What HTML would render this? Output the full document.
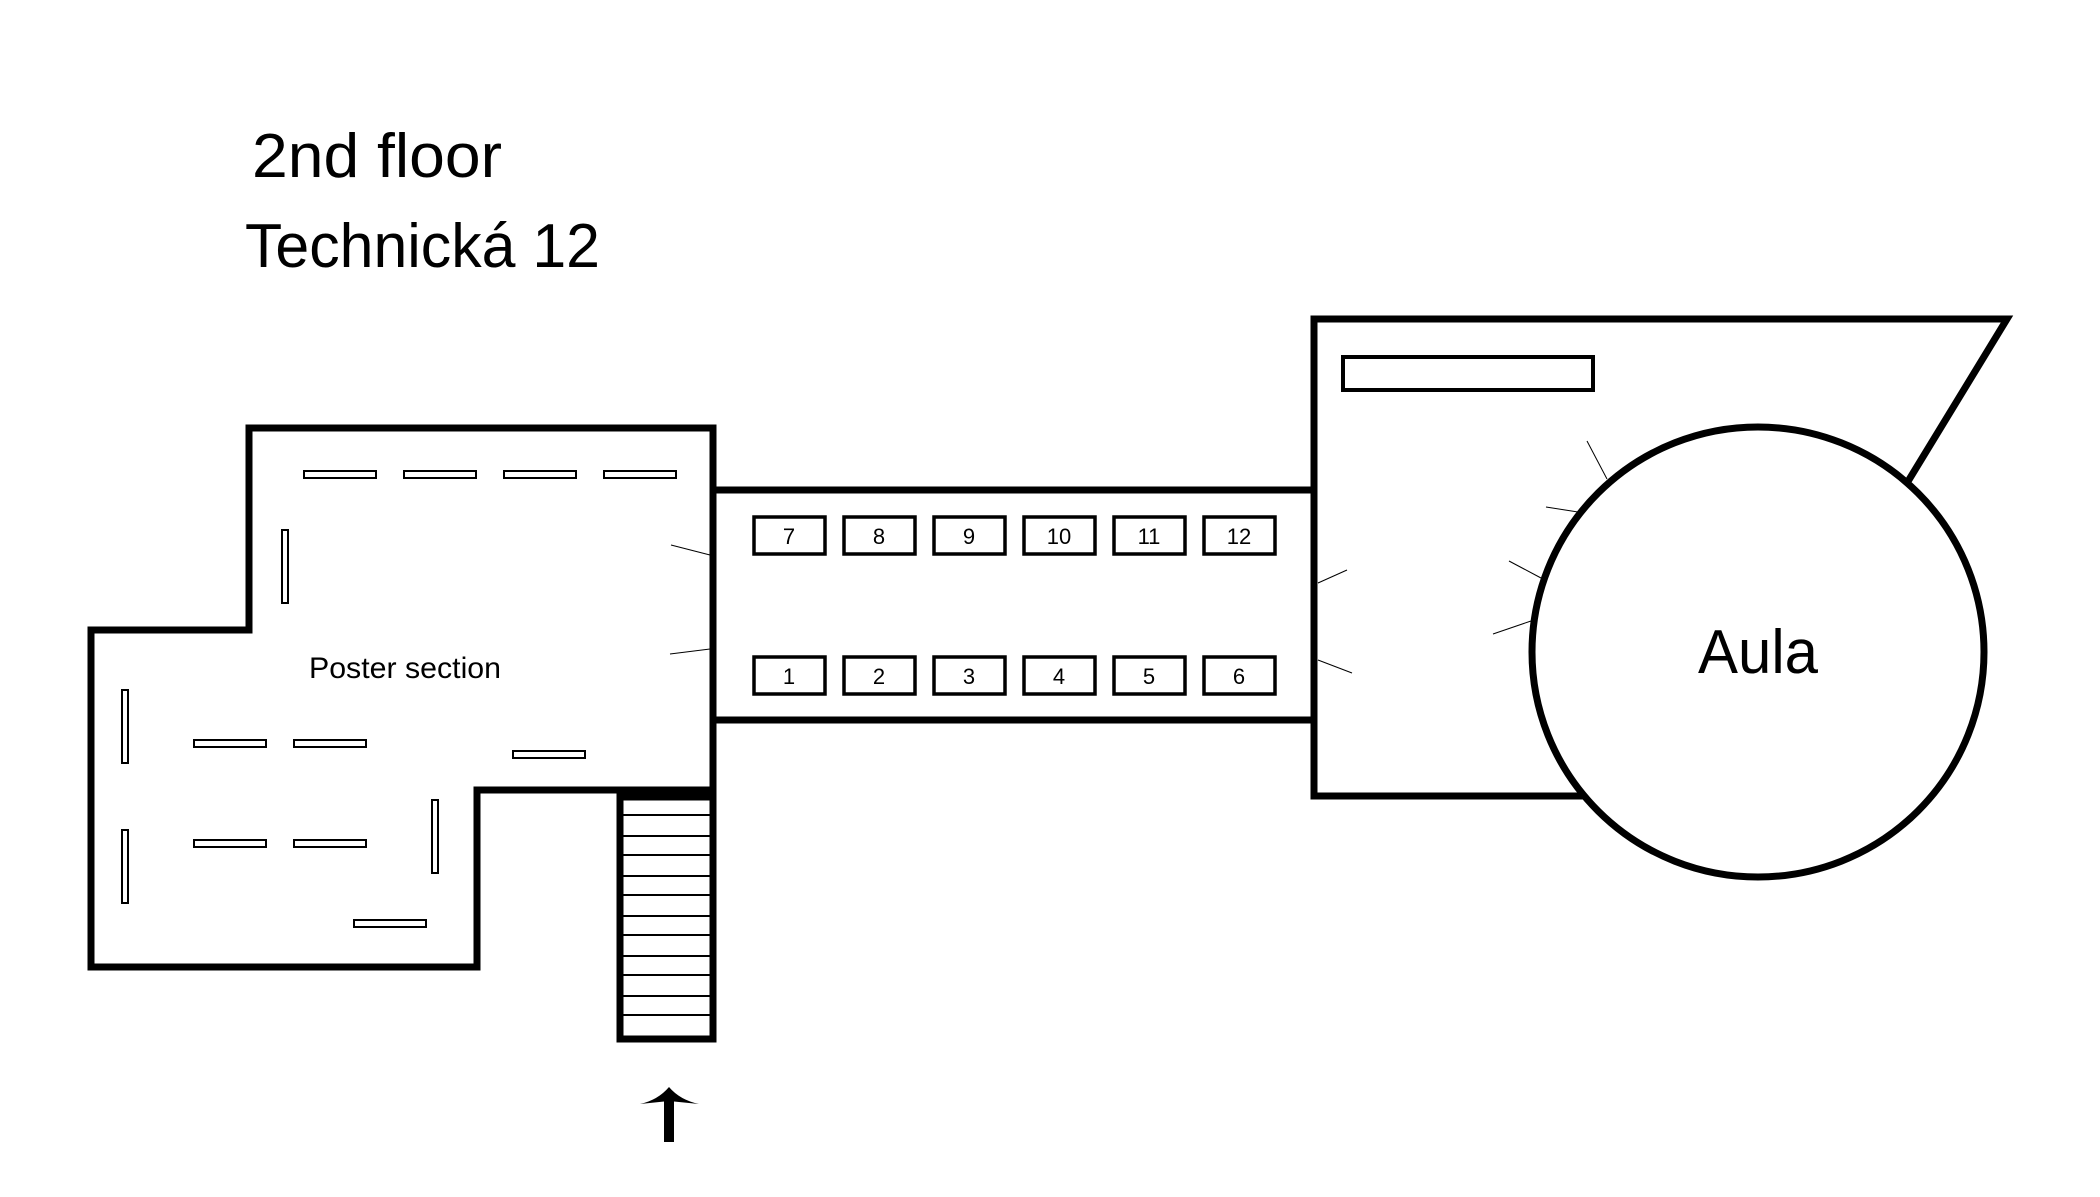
<!DOCTYPE html>
<html><head><meta charset="utf-8"><style>
html,body{margin:0;padding:0;background:#fff;}
svg{display:block;}
text{font-family:"Liberation Sans",sans-serif;fill:#000;}
</style></head><body>
<svg width="2100" height="1197" viewBox="0 0 2100 1197" xmlns="http://www.w3.org/2000/svg">
<rect width="2100" height="1197" fill="#fff"/>
<text x="252" y="177" font-size="62" textLength="250" lengthAdjust="spacingAndGlyphs">2nd floor</text>
<text x="245" y="267" font-size="62" textLength="355" lengthAdjust="spacingAndGlyphs">Technická 12</text>

<!-- left building -->
<polygon points="249,428 713,428 713,790 477,790 477,967 91,967 91,630 249,630" fill="none" stroke="#000" stroke-width="7"/>
<!-- corridor -->
<rect x="713" y="490" width="601" height="230" fill="none" stroke="#000" stroke-width="7"/>
<!-- right building -->
<polyline points="1583,796 1314,796 1314,319 2007,319 1907,483" fill="none" stroke="#000" stroke-width="7"/>
<ellipse cx="1758" cy="652" rx="226" ry="225" fill="#fff" stroke="#000" stroke-width="7"/>
<rect x="1343" y="357" width="250" height="33" fill="none" stroke="#000" stroke-width="4"/>
<text x="1758" y="673" font-size="62" text-anchor="middle" textLength="120" lengthAdjust="spacingAndGlyphs">Aula</text>

<!-- ticks -->
<g stroke="#000" stroke-width="1">
<line x1="1587" y1="441" x2="1607" y2="479"/>
<line x1="1546" y1="507" x2="1578" y2="512"/>
<line x1="1509" y1="561" x2="1541" y2="578"/>
<line x1="1493" y1="634" x2="1531" y2="621"/>
<line x1="1318" y1="583" x2="1347" y2="570"/>
<line x1="1318" y1="660" x2="1352" y2="673"/>
<line x1="671" y1="545" x2="710" y2="555"/>
<line x1="670" y1="654" x2="710" y2="649"/>
</g>

<!-- stairs -->
<rect x="620" y="797" width="93" height="242" fill="none" stroke="#000" stroke-width="7"/>
<g stroke="#000" stroke-width="2">
<line x1="620" y1="815" x2="713" y2="815"/><line x1="620" y1="836" x2="713" y2="836"/>
<line x1="620" y1="855" x2="713" y2="855"/><line x1="620" y1="876" x2="713" y2="876"/>
<line x1="620" y1="895" x2="713" y2="895"/><line x1="620" y1="916" x2="713" y2="916"/>
<line x1="620" y1="935" x2="713" y2="935"/><line x1="620" y1="956" x2="713" y2="956"/>
<line x1="620" y1="975" x2="713" y2="975"/><line x1="620" y1="996" x2="713" y2="996"/>
<line x1="620" y1="1015" x2="713" y2="1015"/>
</g>

<!-- panels -->
<g fill="none" stroke="#000" stroke-width="2">
<rect x="304" y="471" width="72" height="7"/><rect x="404" y="471" width="72" height="7"/>
<rect x="504" y="471" width="72" height="7"/><rect x="604" y="471" width="72" height="7"/>
<rect x="282" y="530" width="6" height="73"/>
<rect x="122" y="690" width="6" height="73"/><rect x="122" y="830" width="6" height="73"/>
<rect x="194" y="740" width="72" height="7"/><rect x="294" y="740" width="72" height="7"/>
<rect x="194" y="840" width="72" height="7"/><rect x="294" y="840" width="72" height="7"/>
<rect x="513" y="751" width="72" height="7"/>
<rect x="432" y="800" width="6" height="73"/>
<rect x="354" y="920" width="72" height="7"/>
</g>
<text x="309" y="678" font-size="30" textLength="192" lengthAdjust="spacingAndGlyphs">Poster section</text>

<!-- booths -->
<g fill="none" stroke="#000" stroke-width="3.5">
<rect x="754" y="517" width="71" height="37"/><rect x="844" y="517" width="71" height="37"/>
<rect x="934" y="517" width="71" height="37"/><rect x="1024" y="517" width="71" height="37"/>
<rect x="1114" y="517" width="71" height="37"/><rect x="1204" y="517" width="71" height="37"/>
<rect x="754" y="657" width="71" height="37"/><rect x="844" y="657" width="71" height="37"/>
<rect x="934" y="657" width="71" height="37"/><rect x="1024" y="657" width="71" height="37"/>
<rect x="1114" y="657" width="71" height="37"/><rect x="1204" y="657" width="71" height="37"/>
</g>
<g font-size="22" text-anchor="middle">
<text x="789" y="544">7</text><text x="879" y="544">8</text><text x="969" y="544">9</text>
<text x="1059" y="544">10</text><text x="1149" y="544">11</text><text x="1239" y="544">12</text>
<text x="789" y="684">1</text><text x="879" y="684">2</text><text x="969" y="684">3</text>
<text x="1059" y="684">4</text><text x="1149" y="684">5</text><text x="1239" y="684">6</text>
</g>

<!-- arrow -->
<rect x="664" y="1098" width="10" height="44" fill="#000"/>
<path d="M669,1087 Q680,1100 699,1104 L669,1101 L640,1104 Q658,1100 669,1087 Z" fill="#000"/>
</svg>
</body></html>
